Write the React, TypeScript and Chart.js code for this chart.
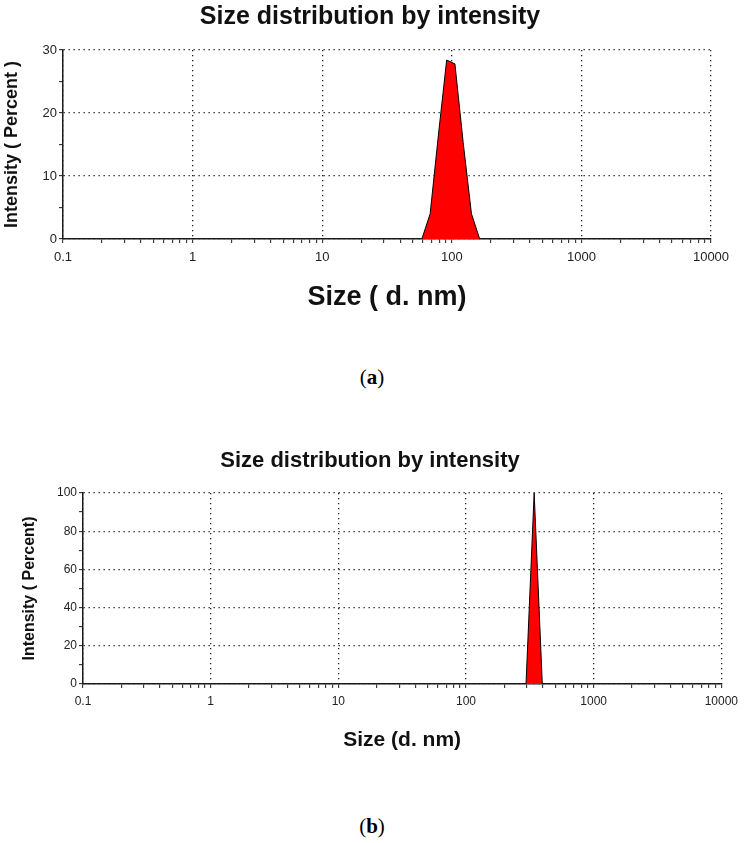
import React, { useEffect, useRef } from 'react';
import { Chart, registerables } from 'chart.js';

Chart.register(...registerables);

// ---- data (a) ----
const SIZES_A = [58.77, 68.06, 78.82, 91.28, 105.7, 122.4, 141.8, 164.2];
const INTENSITY_A = [0, 4.0, 16.5, 28.4, 27.8, 15.3, 4.0, 0];
// ---- data (b) ----
const SIZES_B = [295.3, 342.0, 396.1];
const INTENSITY_B = [0, 100, 0];

// ---- axis ticks ----
const X_MAJOR = [0.1, 1, 10, 100, 1000, 10000];
const X_LABELS = ['0.1', '1', '10', '100', '1000', '10000'];
const X_MINOR_STEPS = [2, 3, 4, 5, 6, 7, 8, 9];
const Y_MAJOR_A = [0, 10, 20, 30];
const Y_MINOR_A = [5, 15, 25];
const Y_MAJOR_B = [0, 20, 40, 60, 80, 100];
const Y_MINOR_B = [10, 30, 50, 70, 90];

const TITLE_TEXT = 'Size distribution by intensity';
const Y_TITLE_A = 'Intensity ( Percent )';
const X_TITLE_A = 'Size ( d. nm)';
const Y_TITLE_B = 'Intensity ( Percent)';
const X_TITLE_B = 'Size (d. nm)';

const X_TICKS: number[] = [];
X_MAJOR.forEach((m, i) => {
  X_TICKS.push(m);
  if (i < X_MAJOR.length - 1) X_MINOR_STEPS.forEach((s) => X_TICKS.push(Number((m * s).toPrecision(3))));
});

const FONT = "'Liberation Sans', Arial, sans-serif";
const GRID = 'rgba(20,20,20,0.95)';
const AXIS = '#1a1a1a';

type Layout = {
  width: number;
  height: number;
  padLeft: number;
  padRight: number;
  yWidth: number;
  xHeight: number;
  titleSize: number;
  titlePadTop: number;
  titlePadBottom: number;
  yTitle: string;
  yTitleSize: number;
  yTitlePadTop: number;
  xTitle: string;
  xTitleSize: number;
  xTitlePadBottom: number;
  tickSize: number;
  xTickPad: number;
  yMax: number;
  yMajor: number[];
  yMinor: number[];
};

function makeChart(canvas: HTMLCanvasElement, sizes: number[], values: number[], L: Layout) {
  const yTicks = [...L.yMajor, ...L.yMinor].sort((a, b) => a - b);
  return new Chart(canvas, {
    type: 'line',
    data: {
      datasets: [
        {
          data: sizes.map((s, i) => ({ x: s, y: values[i] })),
          borderColor: '#000',
          borderWidth: 1,
          backgroundColor: '#ff0000',
          fill: 'origin',
          pointRadius: 0,
          tension: 0,
        },
      ],
    },
    options: {
      responsive: false,
      animation: false,
      layout: { padding: { left: L.padLeft, right: L.padRight, top: 0, bottom: 0 } },
      plugins: {
        legend: { display: false },
        tooltip: { enabled: false },
        title: {
          display: true,
          text: TITLE_TEXT,
          color: '#111',
          font: { family: FONT, size: L.titleSize, weight: 'bold' },
          padding: { top: L.titlePadTop, bottom: L.titlePadBottom },
        },
      },
      scales: {
        x: {
          type: 'logarithmic',
          min: 0.1,
          max: 10000,
          afterBuildTicks: (s: any) => {
            s.ticks = X_TICKS.map((v) => ({ value: v }));
          },
          afterFit: (s: any) => {
            s.height = L.xHeight;
          },
          ticks: {
            autoSkip: false,
            maxRotation: 0,
            minRotation: 0,
            padding: L.xTickPad,
            color: '#222',
            font: { family: FONT, size: L.tickSize },
            callback: (v: any) => {
              const i = X_MAJOR.indexOf(Number(v));
              return i >= 0 ? X_LABELS[i] : '';
            },
          },
          grid: {
            color: (c: any) => (c.tick && X_MAJOR.includes(c.tick.value) ? GRID : 'rgba(0,0,0,0)'),
            lineWidth: 1.3,
            tickColor: AXIS,
            tickLength: 4,
            tickWidth: 1,
          },
          border: { display: true, color: AXIS, width: 1.5, dash: [1.3, 3.7] },
          title: {
            display: true,
            text: L.xTitle,
            color: '#111',
            font: { family: FONT, size: L.xTitleSize, weight: 'bold' },
            padding: { top: 0, bottom: L.xTitlePadBottom },
          },
        },
        y: {
          type: 'linear',
          min: 0,
          max: L.yMax,
          afterBuildTicks: (s: any) => {
            s.ticks = yTicks.map((v) => ({ value: v }));
          },
          afterFit: (s: any) => {
            s.width = L.yWidth;
          },
          ticks: {
            padding: 2,
            color: '#222',
            font: { family: FONT, size: L.tickSize },
            callback: (v: any) => (L.yMajor.includes(Number(v)) ? String(v) : ''),
          },
          grid: {
            color: (c: any) => (c.tick && L.yMajor.includes(c.tick.value) ? GRID : 'rgba(0,0,0,0)'),
            lineWidth: 1.3,
            tickColor: AXIS,
            tickLength: 4,
            tickWidth: 1,
          },
          border: { display: true, color: AXIS, width: 1.5, dash: [1.3, 3.7] },
          title: {
            display: true,
            text: L.yTitle,
            color: '#111',
            font: { family: FONT, size: L.yTitleSize, weight: 'bold' },
            padding: { top: L.yTitlePadTop, bottom: 0 },
          },
        },
      },
    },
  } as any);
}

const LAYOUT_A: Layout = {
  width: 744,
  height: 320,
  padLeft: 29,
  padRight: 33,
  yWidth: 34,
  xHeight: 81,
  titleSize: 25,
  titlePadTop: 2.5,
  titlePadBottom: 17.5,
  yTitle: Y_TITLE_A,
  yTitleSize: 18,
  yTitlePadTop: -27.5,
  xTitle: X_TITLE_A,
  xTitleSize: 27,
  xTitlePadBottom: 6,
  tickSize: 13,
  xTickPad: 6.5,
  yMax: 30,
  yMajor: Y_MAJOR_A,
  yMinor: Y_MINOR_A,
};

const LAYOUT_B: Layout = {
  width: 744,
  height: 320,
  padLeft: 18,
  padRight: 22,
  yWidth: 65,
  xHeight: 76,
  titleSize: 22,
  titlePadTop: 7.8,
  titlePadBottom: 18.8,
  yTitle: Y_TITLE_B,
  yTitleSize: 16,
  yTitlePadTop: 2,
  xTitle: X_TITLE_B,
  xTitleSize: 21,
  xTitlePadBottom: 7.5,
  tickSize: 12,
  xTickPad: 6,
  yMax: 100,
  yMajor: Y_MAJOR_B,
  yMinor: Y_MINOR_B,
};

export default function App() {
  const refA = useRef<HTMLCanvasElement>(null);
  const refB = useRef<HTMLCanvasElement>(null);

  useEffect(() => {
    const a = makeChart(refA.current!, SIZES_A, INTENSITY_A, LAYOUT_A);
    const b = makeChart(refB.current!, SIZES_B, INTENSITY_B, LAYOUT_B);
    return () => {
      a.destroy();
      b.destroy();
    };
  }, []);

  const caption: React.CSSProperties = {
    position: 'absolute',
    left: 0,
    width: 744,
    textAlign: 'center',
    fontFamily: "'Liberation Serif', 'Times New Roman', serif",
    fontSize: 21,
    lineHeight: '24px',
    color: '#000',
  };

  return (
    <div style={{ position: 'absolute', left: 0, top: 0, width: 744, height: 843, background: '#fff' }}>
      <canvas
        ref={refA}
        width={LAYOUT_A.width}
        height={LAYOUT_A.height}
        style={{ position: 'absolute', left: 0, top: 0, width: LAYOUT_A.width, height: LAYOUT_A.height }}
      />
      <div style={{ ...caption, top: 365 }}>
        (<b>a</b>)
      </div>
      <canvas
        ref={refB}
        width={LAYOUT_B.width}
        height={LAYOUT_B.height}
        style={{ position: 'absolute', left: 0, top: 440, width: LAYOUT_B.width, height: LAYOUT_B.height }}
      />
      <div style={{ ...caption, top: 814 }}>
        (<b>b</b>)
      </div>
    </div>
  );
}
